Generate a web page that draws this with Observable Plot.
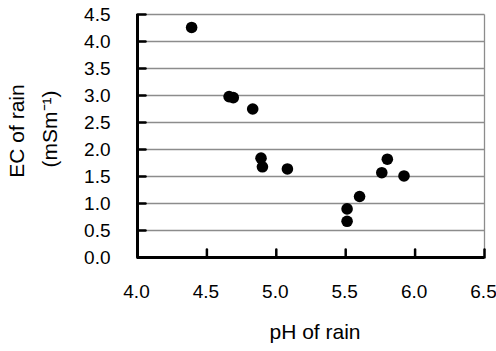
<!DOCTYPE html>
<html>
<head>
<meta charset="utf-8">
<script src="https://cdn.jsdelivr.net/npm/d3@7"></script>
<script src="https://cdn.jsdelivr.net/npm/@observablehq/plot@0.6"></script>
<style>
  html, body { margin: 0; padding: 0; background: #fff; }
  #chart svg { font-family: Arial, "Liberation Sans", sans-serif; }
</style>
</head>
<body>
<div id="chart"></div>
<script>
// pH of rain (x) and EC of rain in mS/m (y)
const pH = [4.39, 4.66, 4.69, 4.83, 4.89, 4.90, 5.08, 5.51, 5.51, 5.60, 5.76, 5.80, 5.92];
const EC = [4.26, 2.98, 2.96, 2.75, 1.84, 1.68, 1.64, 0.90, 0.67, 1.13, 1.57, 1.82, 1.51];
const xTicks = [4.0, 4.5, 5.0, 5.5, 6.0, 6.5];
const yTicks = [0.0, 0.5, 1.0, 1.5, 2.0, 2.5, 3.0, 3.5, 4.0, 4.5];
const xLabel = "pH of rain";
const yLabel1 = "EC of rain";
const yLabel2 = "(mSm\u207B\u00B9)";

const data = pH.map((p, i) => ({pH: p, EC: EC[i]}));
const fmt = d => d.toFixed(1);
const xMin = xTicks[0], xMax = xTicks[xTicks.length - 1];
const yMin = yTicks[0], yMax = yTicks[yTicks.length - 1];

const tickUp = {draw(context, l) { context.moveTo(0, 0); context.lineTo(0, -l); }};
const tickRight = {draw(context, l) { context.moveTo(0, 0); context.lineTo(l, 0); }};

const chart = Plot.plot({
  width: 496,
  height: 351,
  marginLeft: 137,
  marginRight: 12,
  marginTop: 14,
  marginBottom: 94,
  x: {domain: [xMin, xMax]},
  y: {domain: [yMin, yMax]},
  marks: [
    // horizontal gridlines and right border (drawn as links / paths)
    Plot.link(yTicks.slice(1), {x1: xMin, x2: xMax, y1: d => d, y2: d => d, stroke: "#8c8c8c", strokeWidth: 1.3}),
    Plot.link([xMax], {x1: d => d, x2: d => d, y1: yMin, y2: yMax, stroke: "#8c8c8c", strokeWidth: 1.3}),
    // tick labels
    Plot.axisX({ticks: xTicks, tickFormat: fmt, tickSize: 0, tickPadding: 27, fontSize: 19, dx: -1, label: null}),
    Plot.axisY({ticks: yTicks, tickFormat: fmt, tickSize: 0, tickPadding: 27, fontSize: 19, label: null}),
    // inward tick marks
    Plot.vector(xTicks, {x: d => d, y: yMin, length: 8, anchor: "start", shape: tickUp, stroke: "#000", strokeWidth: 2.5}),
    Plot.vector(yTicks, {x: xMin, y: d => d, length: 8, anchor: "start", shape: tickRight, stroke: "#000", strokeWidth: 2.5}),
    // axis lines
    Plot.ruleX([xMin], {y1: yMin, y2: yMax, stroke: "#000", strokeWidth: 3}),
    Plot.ruleY([yMin], {x1: xMin, x2: xMax, stroke: "#000", strokeWidth: 3}),
    Plot.dot(data, {x: "pH", y: "EC", r: 5.8, fill: "#000", stroke: "none"}),
    Plot.text([xLabel], {frameAnchor: "bottom", dx: 4, dy: 81, fontSize: 21}),
    Plot.text([yLabel1], {frameAnchor: "left", textAnchor: "middle", rotate: -90, dx: -120, dy: -5, fontSize: 21}),
    Plot.text([yLabel2], {frameAnchor: "left", textAnchor: "middle", rotate: -90, dx: -87, dy: -7, fontSize: 21})
  ]
});
document.getElementById("chart").appendChild(chart);
</script>
</body>
</html>
